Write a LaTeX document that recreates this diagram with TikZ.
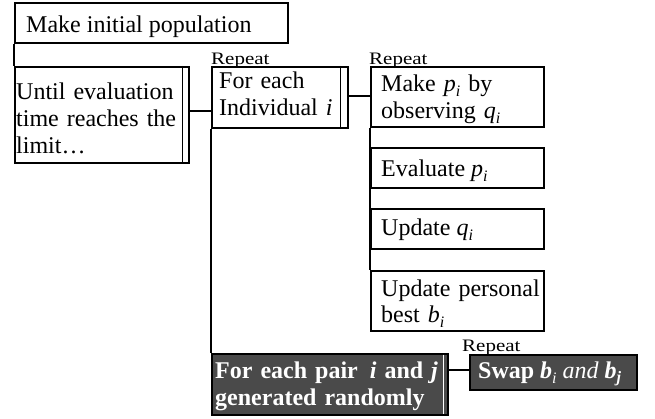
\documentclass[tikz,border=0pt]{standalone}
\usepackage{fontspec}
\usepackage{graphicx}
\setmainfont{Liberation Serif}
\usetikzlibrary{calc}

\definecolor{darkbox}{HTML}{4A4A4A}
% italic variable with a lowered italic index
\newcommand\idx[1]{\raisebox{-5pt}{\fontsize{16}{16}\selectfont\textit{#1}}}
\newcommand\var[2]{\textit{#1}\idx{#2}}
\newcommand\repeatlabel{\scalebox{1.2}[1]{\fontsize{17.5}{17.5}\selectfont Repeat}}

\tikzset{
  frame/.style={draw, line width=1.6pt, rectangle, inner sep=0pt, anchor=north west},
  darkframe/.style={frame, fill=darkbox},
  txt/.style={anchor=base west, inner sep=0pt, align=left,
    font=\fontsize{24}{27}\selectfont},
  darktxt/.style={txt, text=white, font=\fontsize{24}{27}\selectfont\bfseries},
  replabel/.style={anchor=base west, inner sep=0pt},
  wire/.style={line width=1.6pt},
}

\begin{document}
\begin{tikzpicture}[x=1pt, y=-1pt]
  \useasboundingbox (0,0) rectangle (655,419);

  % boxes
  \node[frame, minimum width=273, minimum height=40] (init) at (14,2) {};
  \node[frame, minimum width=174, minimum height=96] (until) at (14,66) {};
  \node[frame, minimum width=136, minimum height=61] (each) at (211,66) {};
  \node[frame, minimum width=173, minimum height=60] (make) at (370,66) {};
  \node[frame, minimum width=173, minimum height=40] (eval) at (370,147) {};
  \node[frame, minimum width=173, minimum height=40] (updq) at (370,208) {};
  \node[frame, minimum width=173, minimum height=60] (best) at (370,270) {};
  \node[darkframe, minimum width=236, minimum height=61] (pair) at (211,353) {};
  \node[darkframe, minimum width=167, minimum height=35] (swap) at (469,354) {};

  % loop bars on the right side of the repeat boxes
  \draw[wire] ($(until.north east)+(-7,0)$) -- ($(until.south east)+(-7,0)$);
  \draw[wire] ($(each.north east)+(-8,0)$) -- ($(each.south east)+(-8,0)$);
  \draw[line width=1.6pt, white] ($(pair.north east)+(-5,1.5)$) -- ($(pair.south east)+(-5,-1.5)$);

  % texts
  \node[txt] (init-t) at ($(init.north west)+(12,31)$) {Make initial population};
  \node[txt, text width=170] (until-t) at ($(until.north west)+(2,34)$)
    {Until evaluation\\time reaches the\\limit\ldots};
  \node[txt, text width=125] (each-t) at ($(each.north west)+(8,23)$)
    {For each\\Individual \textit{i}};
  \node[txt, text width=165] (make-t) at ($(make.north west)+(11,26)$)
    {Make \var{p}{i} by\\observing \var{q}{i}};
  \node[txt] (eval-t) at ($(eval.north west)+(11,30)$) {Evaluate \var{p}{i}};
  \node[txt] (updq-t) at ($(updq.north west)+(11,28)$) {Update \var{q}{i}};
  \node[txt, text width=165] (best-t) at ($(best.north west)+(11,26)$)
    {Update personal\\[-1pt]best \var{b}{i}};
  \node[darktxt, text width=225] (pair-t) at ($(pair.north west)+(4,25)$)
    {For each pair \,\textit{i} and \textit{j}\\generated randomly};
  \node[darktxt] (swap-t) at ($(swap.north west)+(9,24)$)
    {Swap \textit{b}\textmd{\idx{i}} \textmd{\textit{and}} \textit{b}\raisebox{-4pt}{\fontsize{16}{16}\selectfont\textit{j}}};

  % repeat labels
  \node[replabel] (rep1) at ($(each.north west)+(0,-1)$) {\repeatlabel};
  \node[replabel] (rep2) at ($(make.north west)+(-1,-1)$) {\repeatlabel};
  \node[replabel] (rep3) at ($(swap.north west)+(-7,-3)$) {\repeatlabel};

  % connectors
  \draw[wire] (init.south west) -- (until.north west);
  \draw[wire] (until.east |- 0,111) -- (each.west |- 0,111);
  \draw[wire] (each.east |- 0,96) -- (make.west |- 0,96);
  \draw[wire] (make.south west) -- (best.north west);
  \draw[wire] (each.south west) -- (pair.north west);
  \draw[wire] (pair.east |- 0,370) -- (swap.west |- 0,370);
\end{tikzpicture}
\end{document}
